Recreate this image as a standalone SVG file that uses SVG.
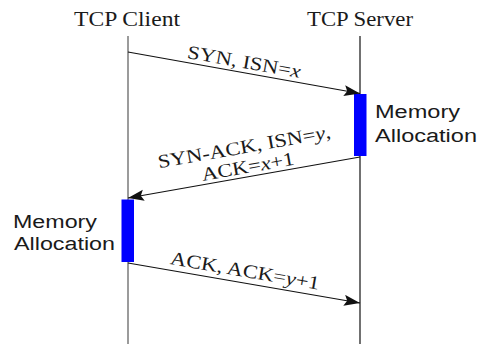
<svg xmlns="http://www.w3.org/2000/svg" width="477" height="344" viewBox="0 0 477 344">
<style>
.title{font-family:"Liberation Serif","Times New Roman",serif;font-size:20px;fill:#1a1a1a;}
.lbl{font-family:"Liberation Serif","Times New Roman",serif;font-size:19px;fill:#1a1a1a;text-anchor:middle;}
.mem{font-family:"Liberation Sans",Arial,sans-serif;font-size:18px;fill:#1a1a1a;}
.bar{fill:#0000ff;}
.msg{stroke:#111;stroke-width:1.2;fill:none;}
</style>
<defs>
<marker id="ah" markerUnits="userSpaceOnUse" markerWidth="17" markerHeight="13" refX="16" refY="5.5" orient="auto">
<path d="M0,0 L16,5.5 L0,11 L3,5.5 Z" fill="#111"/>
</marker>
</defs>
<rect width="477" height="344" fill="#fff"/>
<g id="client">
<line x1="128" y1="36" x2="128" y2="344" stroke="#7a7a7a" stroke-width="1.5"/>
<text class="title" x="74" y="26" textLength="106" lengthAdjust="spacingAndGlyphs">TCP Client</text>
</g>
<g id="server">
<line x1="360" y1="36" x2="360" y2="344" stroke="#111" stroke-width="1.2"/>
<text class="title" x="307" y="26" textLength="106" lengthAdjust="spacingAndGlyphs">TCP Server</text>
</g>
<g id="server-alloc">
<rect class="bar" x="354" y="94" width="12.5" height="62"/>
<text class="mem" x="375" y="118" textLength="85" lengthAdjust="spacingAndGlyphs">Memory</text>
<text class="mem" x="375" y="142" textLength="102" lengthAdjust="spacingAndGlyphs">Allocation</text>
</g>
<g id="client-alloc">
<rect class="bar" x="121.5" y="199.5" width="12.5" height="62.5"/>
<text class="mem" x="13" y="228" textLength="84" lengthAdjust="spacingAndGlyphs">Memory</text>
<text class="mem" x="14" y="250" textLength="101" lengthAdjust="spacingAndGlyphs">Allocation</text>
</g>
<g id="connectors">
<line class="msg" x1="128" y1="52" x2="360" y2="93.5" marker-end="url(#ah)"/>
<line class="msg" x1="360" y1="157" x2="128" y2="198" marker-end="url(#ah)"/>
<line class="msg" x1="128" y1="263" x2="360" y2="303" marker-end="url(#ah)"/>
<g transform="translate(244,62) rotate(10) scale(1.18,1)"><text class="lbl" x="0" y="6">SYN, ISN=<tspan font-style="italic">x</tspan></text></g>
<g transform="translate(246,157) rotate(-10) scale(1.18,1)"><text class="lbl" x="0" y="-4">SYN-ACK, ISN=<tspan font-style="italic">y</tspan>,</text><text class="lbl" x="0" y="16">ACK=<tspan font-style="italic">x</tspan>+1</text></g>
<g transform="translate(245,271) rotate(9.8) scale(1.18,1)"><text class="lbl" x="0" y="6">ACK, ACK=<tspan font-style="italic">y</tspan>+1</text></g>
</g>
</svg>
